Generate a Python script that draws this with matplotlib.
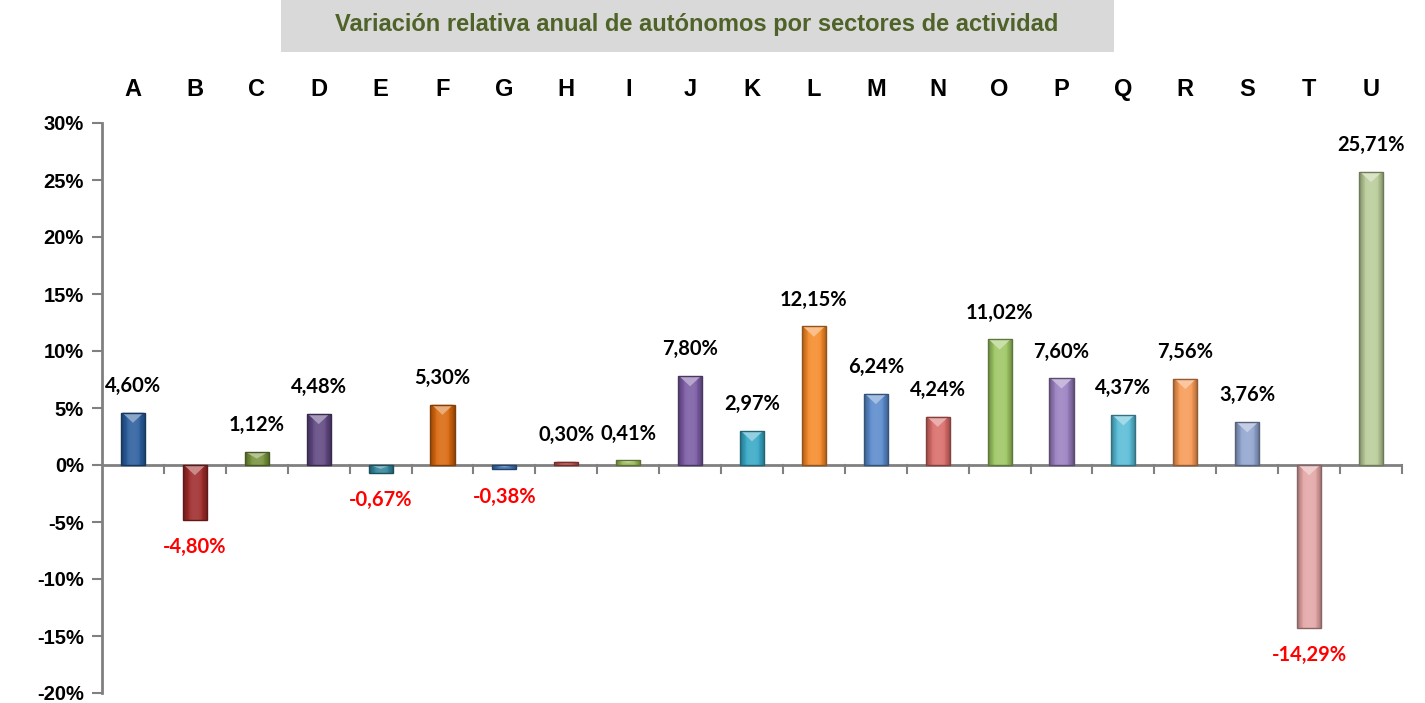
import matplotlib.pyplot as plt
from matplotlib.patches import Rectangle, Polygon
from matplotlib.colors import to_rgb
import matplotlib.transforms as mtransforms
import numpy as np

# --- Data ---
sectores = list("ABCDEFGHIJKLMNOPQRSTU")
variacion = [4.60, -4.80, 1.12, 4.48, -0.67, 5.30, -0.38, 0.30, 0.41, 7.80,
             2.97, 12.15, 6.24, 4.24, 11.02, 7.60, 4.37, 7.56, 3.76, -14.29, 25.71]
colores = ["#2A5D9C", "#9E2A2A", "#77933C", "#5F4680", "#31859C", "#D9680E",
           "#3D6FB0", "#C0504D", "#9BBB59", "#7A5BA3", "#38A8C6", "#F58A2A",
           "#5A8ACB", "#D86C69", "#9DC663", "#9A7FC0", "#58BCD6", "#F79A55",
           "#91A5CF", "#E4A6A6", "#B9CC98"]
ticks_y = [-20, -15, -10, -5, 0, 5, 10, 15, 20, 25, 30]

titulo = "Variación relativa anual de autónomos por sectores de actividad"

narrow = ["Liberation Sans", "DejaVu Sans"]
label_font = ["Lato", "DejaVu Sans"]


def mezcla(c, otro, t):
    c = np.array(to_rgb(c))
    return tuple(c * (1 - t) + np.array(otro) * t)


fig = plt.figure(figsize=(14.25, 7.03), dpi=100)
ax = fig.add_axes([102 / 1425, 10 / 703, 1300 / 1425, 570 / 703])

x = np.arange(len(sectores))
bars = ax.bar(x, variacion, width=0.39, color=colores, linewidth=0, zorder=3)

# bevel-like shading on each bar
for b, c in zip(bars, colores):
    x0, w = b.get_x(), b.get_width()
    y0, h = b.get_y(), b.get_height()
    lo, hi = min(y0, y0 + h), max(y0, y0 + h)
    s = np.linspace(-1, 1, 40)
    prof = 1 - np.abs(s) ** 3
    grad = np.array([mezcla(c, (0, 0, 0), 0.35 * (1 - p)) if p < 0.8 else
                     mezcla(c, (1, 1, 1), 0.12 * (p - 0.8) / 0.2) for p in prof])
    im = ax.imshow(grad[np.newaxis, :, :], extent=(x0, x0 + w, lo, hi),
                   aspect="auto", zorder=3.1, interpolation="bilinear")
    im.set_clip_path(b)
    ax.add_patch(Rectangle((x0, lo), w, hi - lo, fill=False,
                           edgecolor=mezcla(c, (0, 0, 0), 0.4), linewidth=1.0,
                           zorder=3.3))
    depth = min(0.9, (hi - lo) * 0.5)
    ax.add_patch(Polygon([(x0 + 0.02, hi), (x0 + w - 0.02, hi), (x0 + w / 2, hi - depth)],
                         closed=True, facecolor=mezcla(c, (1, 1, 1), 0.45),
                         edgecolor="none", zorder=3.2))
ax.set_aspect("auto")

# value labels
for xi, v in zip(x, variacion):
    txt = f"{v:.2f}%".replace(".", ",")
    if v >= 0:
        ax.text(xi, v + 2.35, txt, ha="center", va="center", fontsize=14.5,
                fontweight="bold", family=label_font, color="black")
    else:
        ax.text(xi, v - 2.4, txt, ha="center", va="center", fontsize=14.5,
                fontweight="bold", family=label_font, color="#FF0000")

# sector letters on top
trans = mtransforms.blended_transform_factory(ax.transData, ax.transAxes)
for xi, s in zip(x, sectores):
    ax.text(xi, 1.0596, s, transform=trans, ha="center", va="center",
            fontsize=17, fontweight="bold", family=narrow)

ax.set_xlim(-0.5, len(sectores) - 0.5)
ax.set_ylim(-20, 30)
ax.set_yticks(ticks_y)
ax.set_yticklabels([f"{t}%" for t in ticks_y], fontsize=14.5, fontweight="bold",
                   family=narrow)
ax.tick_params(axis="y", length=7, width=1.5, color="#808080", pad=6)

# zero line with boundary ticks
ax.axhline(0, color="#808080", linewidth=2, zorder=2)
ax.set_xticks([])
for bnd in np.arange(0.5, len(sectores), 1.0):
    ax.plot([bnd, bnd], [0, -0.7], color="#808080", linewidth=1.5, zorder=2,
            clip_on=False)

for side in ["top", "right", "bottom"]:
    ax.spines[side].set_visible(False)
ax.spines["left"].set_color("#808080")
ax.spines["left"].set_linewidth(2)

# title box
fig.patches.append(Rectangle((281 / 1425, 1 - 52 / 703), (1114 - 281) / 1425, 52 / 703,
                             transform=fig.transFigure, facecolor="#D9D9D9",
                             edgecolor="none", zorder=0))
fig.text(697 / 1425, 1 - 24 / 703, titulo, ha="center", va="center", fontsize=17,
         fontweight="bold", family=narrow, color="#4F6228")

fig.savefig("out.png", dpi=100)
